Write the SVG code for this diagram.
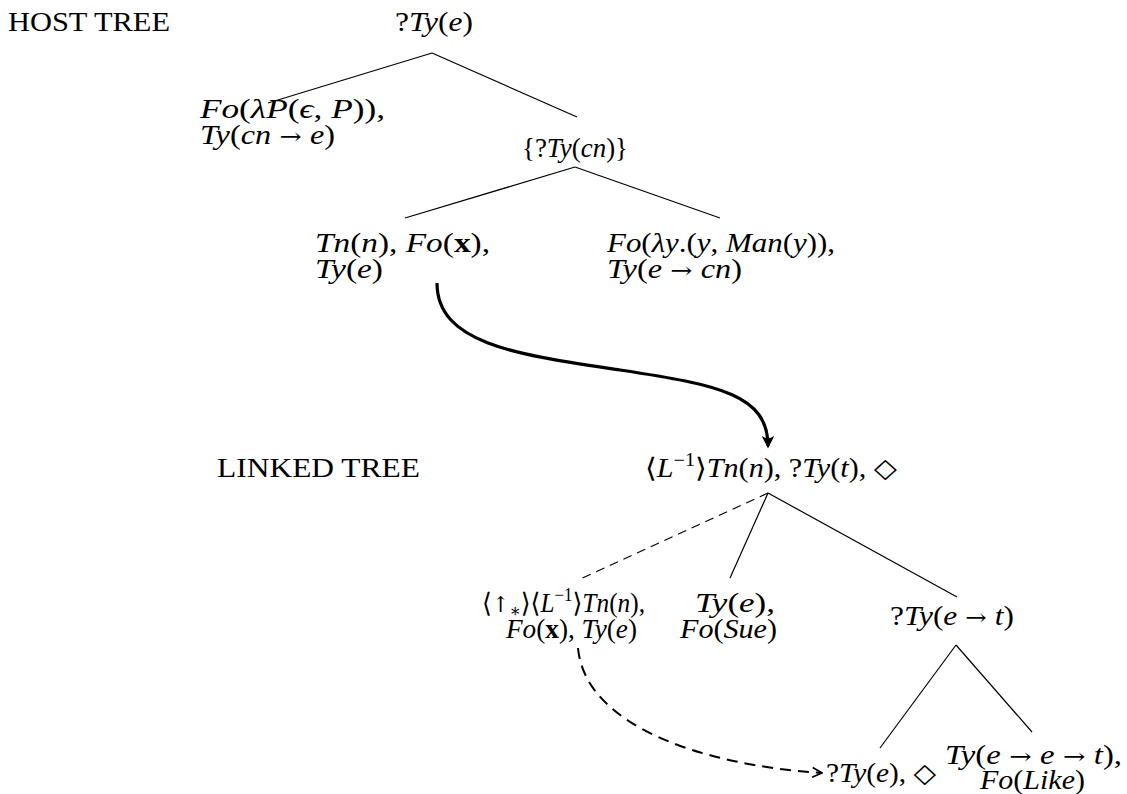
<svg xmlns="http://www.w3.org/2000/svg" width="1127" height="794" viewBox="0 0 1127 794">
<defs>
<style>
text{font-family:"Liberation Serif","DejaVu Serif",serif;font-size:27px;fill:#000}
.m{font-style:italic}
.r{font-style:normal}
.ar{font-style:normal;font-family:"DejaVu Serif","DejaVu Sans",serif;font-size:22px}
.b{font-style:normal;font-weight:bold}
.sup{font-size:18px;font-style:normal}
.e{stroke:#000;stroke-width:1.2;fill:none}
.d{stroke:#000;stroke-width:1.2;fill:none;stroke-dasharray:9 6}
.thick{stroke:#000;stroke-width:3.2;fill:none}
.tdash{stroke:#000;stroke-width:2;fill:none;stroke-dasharray:11 7}
</style>
<marker id="ah" viewBox="0 0 10 10" refX="8" refY="5" markerWidth="4" markerHeight="4" orient="auto" markerUnits="strokeWidth">
<path d="M0,0 Q4,5 0,10 L10,5 Z" fill="#000"/>
</marker>
<marker id="ah2" viewBox="0 0 10 10" refX="9" refY="5" markerWidth="6" markerHeight="6" orient="auto" markerUnits="strokeWidth">
<path d="M1,1 L9,5 L1,9" fill="none" stroke="#000" stroke-width="1.4"/>
</marker>
</defs>
<rect width="1127" height="794" fill="#fff"/>

<g id="connectors">
<line class="e" x1="432" y1="53" x2="268" y2="103"/>
<line class="e" x1="432" y1="53" x2="577" y2="117"/>
<line class="e" x1="575" y1="167" x2="405" y2="218"/>
<line class="e" x1="575" y1="167" x2="720" y2="218"/>
<path class="thick" d="M437,283 C437,345 520,355 620,370 C720,385 768,395 768,446" marker-end="url(#ah)"/>
<line class="d" x1="768" y1="493" x2="578" y2="580"/>
<line class="e" x1="768" y1="493" x2="730" y2="578"/>
<line class="e" x1="768" y1="493" x2="957" y2="597"/>
<line class="e" x1="956" y1="645" x2="880" y2="748"/>
<line class="e" x1="956" y1="645" x2="1032" y2="732"/>
<path class="tdash" d="M578,648 C585,725 700,765 822,773" marker-end="url(#ah2)"/>
</g>

<g id="label-host"><text x="8" y="31" textLength="162" lengthAdjust="spacingAndGlyphs">HOST TREE</text></g>
<g id="label-linked"><text x="217" y="477" textLength="203" lengthAdjust="spacingAndGlyphs">LINKED TREE</text></g>

<g id="n-root"><text x="395" y="31" textLength="78" lengthAdjust="spacingAndGlyphs"><tspan class="r">?</tspan><tspan class="m">Ty</tspan><tspan class="r">(</tspan><tspan class="m">e</tspan><tspan class="r">)</tspan></text></g>

<g id="n-det">
<text x="200" y="118" textLength="185" lengthAdjust="spacingAndGlyphs"><tspan class="m">Fo</tspan><tspan class="r">(</tspan><tspan class="m">λP</tspan><tspan class="r">(</tspan><tspan class="m">ϵ</tspan><tspan class="r">, </tspan><tspan class="m">P</tspan><tspan class="r">)),</tspan></text>
<text x="200" y="144" textLength="135" lengthAdjust="spacingAndGlyphs"><tspan class="m">Ty</tspan><tspan class="r">(</tspan><tspan class="m">cn</tspan><tspan class="ar"> → </tspan><tspan class="m">e</tspan><tspan class="r">)</tspan></text>
</g>

<g id="n-cn"><text x="522" y="157" textLength="106" lengthAdjust="spacingAndGlyphs"><tspan class="r">{?</tspan><tspan class="m">Ty</tspan><tspan class="r">(</tspan><tspan class="m">cn</tspan><tspan class="r">)}</tspan></text></g>

<g id="n-x">
<text x="315" y="252" textLength="175" lengthAdjust="spacingAndGlyphs"><tspan class="m">Tn</tspan><tspan class="r">(</tspan><tspan class="m">n</tspan><tspan class="r">), </tspan><tspan class="m">Fo</tspan><tspan class="r">(</tspan><tspan class="b">x</tspan><tspan class="r">),</tspan></text>
<text x="315" y="278" textLength="68" lengthAdjust="spacingAndGlyphs"><tspan class="m">Ty</tspan><tspan class="r">(</tspan><tspan class="m">e</tspan><tspan class="r">)</tspan></text>
</g>

<g id="n-man">
<text x="607" y="252" textLength="228" lengthAdjust="spacingAndGlyphs"><tspan class="m">Fo</tspan><tspan class="r">(</tspan><tspan class="m">λy</tspan><tspan class="r">.(</tspan><tspan class="m">y</tspan><tspan class="r">, </tspan><tspan class="m">Man</tspan><tspan class="r">(</tspan><tspan class="m">y</tspan><tspan class="r">)),</tspan></text>
<text x="607" y="278" textLength="135" lengthAdjust="spacingAndGlyphs"><tspan class="m">Ty</tspan><tspan class="r">(</tspan><tspan class="m">e</tspan><tspan class="ar"> → </tspan><tspan class="m">cn</tspan><tspan class="r">)</tspan></text>
</g>

<g id="n-link">
<text x="645" y="477" textLength="252" lengthAdjust="spacingAndGlyphs"><tspan class="r">⟨</tspan><tspan class="m">L</tspan><tspan class="sup" dy="-11">−1</tspan><tspan class="r" dy="11">⟩</tspan><tspan class="m">Tn</tspan><tspan class="r">(</tspan><tspan class="m">n</tspan><tspan class="r">), ?</tspan><tspan class="m">Ty</tspan><tspan class="r">(</tspan><tspan class="m">t</tspan><tspan class="r">), ◇</tspan></text>
</g>

<g id="n-up">
<text x="482" y="612" textLength="163" lengthAdjust="spacingAndGlyphs"><tspan class="r">⟨</tspan><tspan class="ar">↑</tspan><tspan class="sup" dy="5">∗</tspan><tspan class="r" dy="-5">⟩⟨</tspan><tspan class="m">L</tspan><tspan class="sup" dy="-11">−1</tspan><tspan class="r" dy="11">⟩</tspan><tspan class="m">Tn</tspan><tspan class="r">(</tspan><tspan class="m">n</tspan><tspan class="r">),</tspan></text>
<text x="506" y="638" textLength="131" lengthAdjust="spacingAndGlyphs"><tspan class="m">Fo</tspan><tspan class="r">(</tspan><tspan class="b">x</tspan><tspan class="r">), </tspan><tspan class="m">Ty</tspan><tspan class="r">(</tspan><tspan class="m">e</tspan><tspan class="r">)</tspan></text>
</g>

<g id="n-sue">
<text x="695" y="612" textLength="80" lengthAdjust="spacingAndGlyphs"><tspan class="m">Ty</tspan><tspan class="r">(</tspan><tspan class="m">e</tspan><tspan class="r">),</tspan></text>
<text x="680" y="638" textLength="97" lengthAdjust="spacingAndGlyphs"><tspan class="m">Fo</tspan><tspan class="r">(</tspan><tspan class="m">Sue</tspan><tspan class="r">)</tspan></text>
</g>

<g id="n-et"><text x="890" y="625" textLength="124" lengthAdjust="spacingAndGlyphs"><tspan class="r">?</tspan><tspan class="m">Ty</tspan><tspan class="r">(</tspan><tspan class="m">e</tspan><tspan class="ar"> → </tspan><tspan class="m">t</tspan><tspan class="r">)</tspan></text></g>

<g id="n-obj"><text x="826" y="782" textLength="110" lengthAdjust="spacingAndGlyphs"><tspan class="r">?</tspan><tspan class="m">Ty</tspan><tspan class="r">(</tspan><tspan class="m">e</tspan><tspan class="r">), ◇</tspan></text></g>

<g id="n-like">
<text x="945" y="764" textLength="177" lengthAdjust="spacingAndGlyphs"><tspan class="m">Ty</tspan><tspan class="r">(</tspan><tspan class="m">e</tspan><tspan class="ar"> → </tspan><tspan class="m">e</tspan><tspan class="ar"> → </tspan><tspan class="m">t</tspan><tspan class="r">),</tspan></text>
<text x="980" y="789" textLength="105" lengthAdjust="spacingAndGlyphs"><tspan class="m">Fo</tspan><tspan class="r">(</tspan><tspan class="m">Like</tspan><tspan class="r">)</tspan></text>
</g>
</svg>
